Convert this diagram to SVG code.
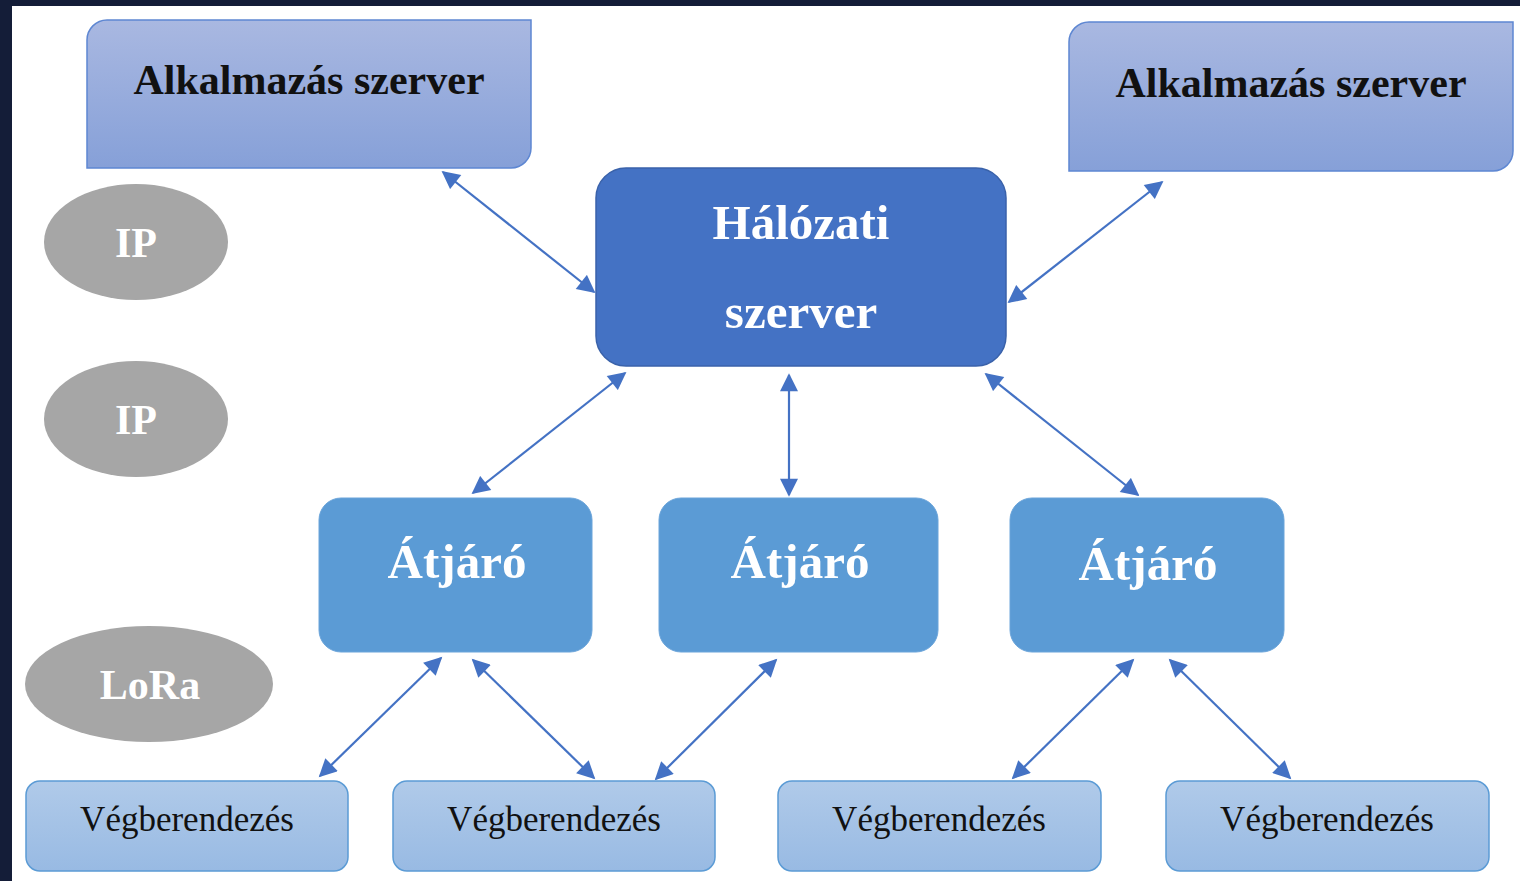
<svg xmlns="http://www.w3.org/2000/svg" width="1520" height="881" viewBox="0 0 1520 881">
  <defs>
    <linearGradient id="gApp" x1="0" y1="0" x2="0" y2="1">
      <stop offset="0" stop-color="#a9b8e1"/>
      <stop offset="1" stop-color="#86a0d8"/>
    </linearGradient>
    <linearGradient id="gDev" x1="0" y1="0" x2="0" y2="1">
      <stop offset="0" stop-color="#b0cae9"/>
      <stop offset="1" stop-color="#98bae3"/>
    </linearGradient>
    <marker id="ah2" viewBox="0 0 10 10" refX="9" refY="5" markerWidth="20" markerHeight="18" markerUnits="userSpaceOnUse" orient="auto-start-reverse">
      <path d="M0,0 L10,5 L0,10 Z" fill="#4472c4"/>
    </marker>
  </defs>
  <style>
    .app { fill: url(#gApp); stroke: #5e87d2; stroke-width: 1.5; }
    .net { fill: #4472c4; stroke: #3a62aa; stroke-width: 1.5; }
    .gw { fill: #5b9bd5; stroke: #6aa4da; stroke-width: 1; }
    .dev { fill: url(#gDev); stroke: #5b9bd5; stroke-width: 1.5; }
    .proto { fill: #a6a6a6; }
    .t { font-family: "Liberation Serif", "Times New Roman", serif; text-anchor: middle; }
    .bold { font-weight: bold; }
    .white { fill: #ffffff; }
    .dark { fill: #111111; }
    .conn line { stroke: #4472c4; stroke-width: 2.2; marker-start: url(#ah2); marker-end: url(#ah2); }
  </style>

  <!-- page background and frame -->
  <rect x="0" y="0" width="1520" height="881" fill="#ffffff"/>
  <rect x="0" y="0" width="12" height="881" fill="#141d38"/>
  <rect x="0" y="0" width="1520" height="6" fill="#141d38"/>

  <!-- connectors -->
  <g id="connectors" class="conn">
    <line x1="443" y1="172" x2="594" y2="292"/>
    <line x1="1162" y1="182" x2="1009" y2="302"/>
    <line x1="625" y1="373" x2="473" y2="493"/>
    <line x1="789" y1="375" x2="789" y2="495"/>
    <line x1="986" y1="374" x2="1138" y2="495"/>
    <line x1="441" y1="658" x2="320" y2="776"/>
    <line x1="473" y1="660" x2="594" y2="778"/>
    <line x1="776" y1="660" x2="656" y2="779"/>
    <line x1="1133" y1="660" x2="1013" y2="778"/>
    <line x1="1170" y1="660" x2="1290" y2="778"/>
  </g>

  <!-- application servers -->
  <g id="app-server-left">
    <path class="app" d="M107,20 H531 V148 A20,20 0 0 1 511,168 H87 V40 A20,20 0 0 1 107,20 Z"/>
    <text class="t bold dark" x="309" y="94" font-size="42">Alkalmazás szerver</text>
  </g>
  <g id="app-server-right">
    <path class="app" d="M1089,22 H1513 V151 A20,20 0 0 1 1493,171 H1069 V42 A20,20 0 0 1 1089,22 Z"/>
    <text class="t bold dark" x="1291" y="97" font-size="42">Alkalmazás szerver</text>
  </g>

  <!-- network server -->
  <g id="network-server">
    <rect class="net" x="596" y="168" width="410" height="198" rx="30" ry="30"/>
    <text class="t bold white" x="801" y="239" font-size="49">Hálózati</text>
    <text class="t bold white" x="801" y="328" font-size="49">szerver</text>
  </g>

  <!-- protocol labels -->
  <g id="proto-ip-1">
    <ellipse class="proto" cx="136" cy="242" rx="92" ry="58"/>
    <text class="t bold white" x="136" y="257" font-size="42">IP</text>
  </g>
  <g id="proto-ip-2">
    <ellipse class="proto" cx="136" cy="419" rx="92" ry="58"/>
    <text class="t bold white" x="136" y="434" font-size="42">IP</text>
  </g>
  <g id="proto-lora">
    <ellipse class="proto" cx="149" cy="684" rx="124" ry="58"/>
    <text class="t bold white" x="150" y="699" font-size="42">LoRa</text>
  </g>

  <!-- gateways -->
  <g id="gateway-1">
    <rect class="gw" x="319" y="498" width="273" height="154" rx="22" ry="22"/>
    <text class="t bold white" x="457" y="578" font-size="49">Átjáró</text>
  </g>
  <g id="gateway-2">
    <rect class="gw" x="659" y="498" width="279" height="154" rx="22" ry="22"/>
    <text class="t bold white" x="800" y="578" font-size="49">Átjáró</text>
  </g>
  <g id="gateway-3">
    <rect class="gw" x="1010" y="498" width="274" height="154" rx="22" ry="22"/>
    <text class="t bold white" x="1148" y="580" font-size="49">Átjáró</text>
  </g>

  <!-- end devices -->
  <g id="device-1">
    <rect class="dev" x="26" y="781" width="322" height="90" rx="14" ry="14"/>
    <text class="t dark" x="187" y="831" font-size="35">Végberendezés</text>
  </g>
  <g id="device-2">
    <rect class="dev" x="393" y="781" width="322" height="90" rx="14" ry="14"/>
    <text class="t dark" x="554" y="831" font-size="35">Végberendezés</text>
  </g>
  <g id="device-3">
    <rect class="dev" x="778" y="781" width="323" height="90" rx="14" ry="14"/>
    <text class="t dark" x="939" y="831" font-size="35">Végberendezés</text>
  </g>
  <g id="device-4">
    <rect class="dev" x="1166" y="781" width="323" height="90" rx="14" ry="14"/>
    <text class="t dark" x="1327" y="831" font-size="35">Végberendezés</text>
  </g>
</svg>
